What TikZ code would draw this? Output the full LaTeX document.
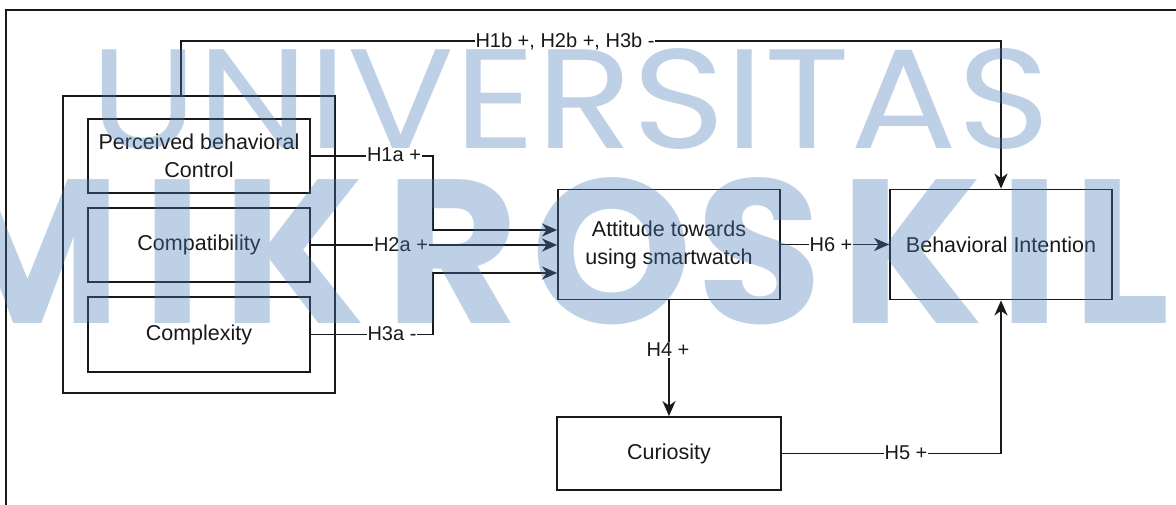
\documentclass[tikz,border=0pt]{standalone}
\usepackage{graphicx}
\usepackage{fontspec}
\setmainfont{Liberation Sans}
\newfontfamily\wmfont{Poppins}
\usetikzlibrary{arrows.meta}
\definecolor{wmblue}{RGB}{71,123,183}
\definecolor{ink}{RGB}{25,25,25}
\newcommand{\wmbig}{\fontsize{205}{205}\wmfont\bfseries}
\begin{document}
\begin{tikzpicture}[x=1pt,y=-1pt,
  box/.style={draw=ink, line width=1.8pt, minimum width=222pt, inner sep=0pt, align=center,
              text=ink, font=\fontsize{21.5}{28}\selectfont},
  conn/.style={draw=ink, line width=1.8pt},
  arr/.style={conn, -{Stealth[length=15pt,width=13pt,inset=4.5pt]}},
  lbl/.style={fill=white, inner sep=1pt, text=ink, font=\fontsize{20}{24}\selectfont},
  wm/.style={inner sep=0pt, text=wmblue, opacity=0.35}
]
\useasboundingbox (0,0) rectangle (1176,504);
\fill[white] (0,0) rectangle (1176,504);

% outer frame (cropped at right and bottom)
\coordinate (frTR) at (1180,10);
\coordinate (frTL) at (6,10);
\coordinate (frBL) at (6,508);
\draw[conn] (frTR) -- (frTL) -- (frBL);

% group box
\node[draw=ink, line width=1.8pt, minimum width=272pt, minimum height=297pt, inner sep=0pt] (grp) at (199,244.5) {};

% constructs
\node[box, minimum height=74pt] (pbc) at (199,156) {Perceived behavioral\\Control};
\node[box, minimum height=74pt] (comp) at (199,245) {Compatibility};
\node[box, minimum height=75pt] (cplx) at (199,334.5) {Complexity};
\node[box, minimum height=110pt] (att) at (669,244.5) {Attitude towards\\using smartwatch};
\node[box, minimum height=110pt] (bi) at (1001,244.5) {Behavioral Intention};
\node[box, minimum width=224pt, minimum height=73pt] (cur) at (669,453.5) {Curiosity};

% junction column
\coordinate (jx) at (433,0);

% connectors
\draw[arr] ([xshift=-18pt]grp.north) -- ++(0,-54) -| (bi.north);
\draw[arr] (pbc.east) -| ([yshift=14.5pt]att.west -| jx) -- ([yshift=14.5pt]att.west);
\draw[arr] (comp.east) -- (comp.east -| att.west);
\draw[arr] (cplx.east) -| ([yshift=-28.5pt]att.west -| jx) -- ([yshift=-28.5pt]att.west);
\draw[arr] (att.east) -- (bi.west);
\draw[arr] (att.south) -- (cur.north);
\draw[arr] (cur.east) -| (bi.south);

% labels
\node[lbl] (l1b) at (565,42) {H1b +, H2b +, H3b -};
\node[lbl] (l1a) at (394,155) {H1a +};
\node[lbl] (l2a) at (401,245) {H2a +};
\node[lbl] (l3a) at (392,334) {H3a -};
\node[lbl] (l6) at (831,245) {H6 +};
\node[lbl] (l4) at (668,350) {H4 +};
\node[lbl] (l5) at (906,453) {H5 +};

% watermark
\node[wm, anchor=south west] (wm1) at (90,150) {\resizebox{960pt}{100pt}{\fontsize{100}{100}\wmfont UNIVERSITAS}};
\foreach \ch/\cx [count=\i] in {M/28, I/173, K/294, R/452, O/612, S/760, K/912, I/1030, L/1121}
  \node[wm, anchor=base] (wmL\i) at (\cx,323) {\wmbig\ch};
\end{tikzpicture}
\end{document}
